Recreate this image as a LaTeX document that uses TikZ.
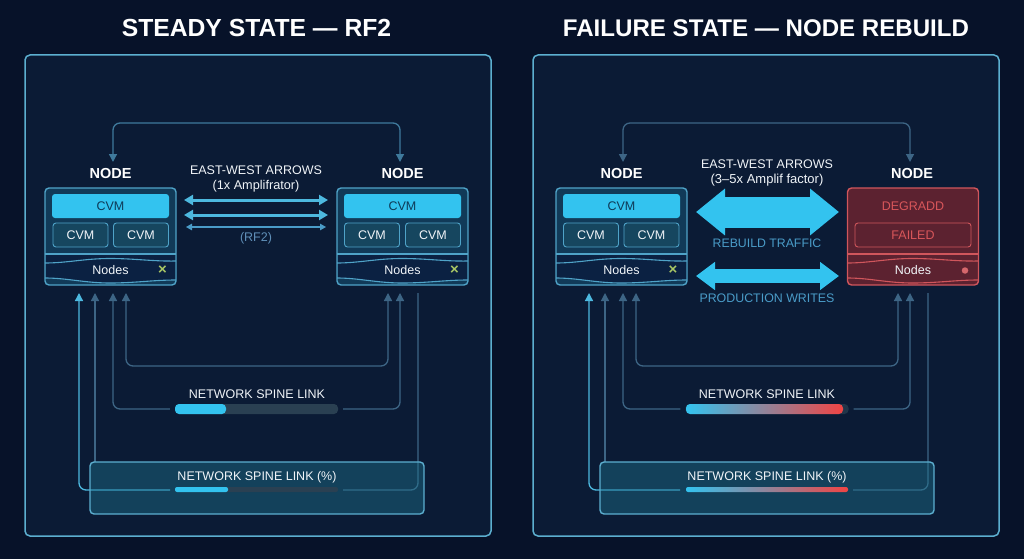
\documentclass[tikz,border=0pt]{standalone}
\usepackage{fontspec}
\setmainfont{Liberation Sans}
\usetikzlibrary{arrows.meta}
\definecolor{pagebg}{HTML}{071229}
\definecolor{panelbg}{HTML}{0B1B35}
\definecolor{panelline}{HTML}{5CAFD0}
\definecolor{cyanfill}{HTML}{33C3EF}
\definecolor{cardfill}{HTML}{113A58}
\definecolor{cardline}{HTML}{4FA3C8}
\definecolor{cvmfill}{HTML}{16465F}
\definecolor{stripfill}{HTML}{0B2142}
\definecolor{dimline}{HTML}{3D6585}
\definecolor{topline}{HTML}{3F7A9C}
\definecolor{brightline}{HTML}{4DB9DF}
\definecolor{txtwhite}{HTML}{F0F4F8}
\definecolor{labelblue}{HTML}{4A9CC8}
\definecolor{rf}{HTML}{5F8FB8}
\definecolor{redfill}{HTML}{5C2230}
\definecolor{redline}{HTML}{D0565C}
\definecolor{redtext}{HTML}{D8565A}
\definecolor{redbar}{HTML}{F04444}
\definecolor{track}{HTML}{2A4052}
\definecolor{xgreen}{HTML}{A9C765}
\definecolor{darktxt}{HTML}{0E3A58}
\definecolor{boxfill}{HTML}{1F7690}
\newcommand{\fsz}[1]{\fontsize{#1}{#1}\selectfont}
\tikzset{
  panelbox/.style={draw=panelline,line width=1.5pt,fill=panelbg,rounded corners=5pt},
  titletext/.style={text=white,font=\fsz{24}\bfseries,inner sep=0pt},
  nodehead/.style={text=white,font=\fsz{14.5}\bfseries,inner sep=0pt},
  card/.style={draw=cardline,line width=1.4pt,fill=cardfill,rounded corners=4pt,minimum width=131pt,minimum height=97pt,inner sep=0pt},
  redcard/.style={card,draw=redline,fill=redfill},
  cvmtop/.style={fill=cyanfill,rounded corners=3pt,minimum width=117pt,minimum height=24pt,inner sep=0pt,text=darktxt,font=\fsz{12.5}},
  cvmlow/.style={draw=cardline,line width=.9pt,fill=cvmfill,rounded corners=3pt,minimum width=55pt,minimum height=24pt,inner sep=0pt,text=txtwhite,font=\fsz{12.5}},
  failbox/.style={draw=redline,line width=.9pt,rounded corners=3pt,minimum width=116pt,minimum height=24pt,inner sep=0pt,text=redtext,font=\fsz{12.5}},
  plaintext/.style={inner sep=0pt,text=txtwhite,font=\fsz{12.5}},
  bluetext/.style={inner sep=0pt,text=labelblue,font=\fsz{12.3}},
  xmark/.style={inner sep=0pt,text=xgreen,font=\fsz{15}\bfseries},
  conn/.style={draw=dimline,line width=1.3pt,rounded corners=7pt},
  tiptri/.style={-{Triangle[length=8pt,width=8pt]}},
  tiptwo/.style={{Triangle[length=8pt,width=8pt]}-{Triangle[length=8pt,width=8pt]}},
  ewthick/.style={draw=brightline,line width=3pt,{Triangle[length=9pt,width=10pt]}-{Triangle[length=9pt,width=10pt]}},
  ewthin/.style={draw=labelblue,line width=1.2pt,{Triangle[length=6pt,width=6.5pt]}-{Triangle[length=6pt,width=6.5pt]}},
  bigarrow/.style={draw=cyanfill,line width=31pt,{Triangle[length=29pt,width=45pt]}-{Triangle[length=29pt,width=45pt]}},
  midarrow/.style={draw=cyanfill,line width=14pt,{Triangle[length=19pt,width=27pt]}-{Triangle[length=19pt,width=27pt]}},
  linkbox/.style={draw=panelline,line width=1.4pt,fill=boxfill,fill opacity=.42,rounded corners=4pt,minimum width=334pt,minimum height=52pt,inner sep=0pt},
}
% #1 strip colour, #2 card left edge
\newcommand{\cardstrip}[2]{%
  \fill[#1] (#2+1,255) -- (#2+130,255) -- (#2+130,280) .. controls (#2+108,280) and (#2+90,283) .. (#2+65,283) .. controls (#2+40,283) and (#2+22,278) .. (#2+1,278) -- cycle;
}
\newcommand{\cardwaves}[2]{%
  \draw[#1,line width=1.1pt] (#2,254) -- (#2+131,254);
  \draw[#1,line width=1.1pt] (#2,263) .. controls (#2+22,263) and (#2+40,258.5) .. (#2+65,258.5) .. controls (#2+90,258.5) and (#2+108,261.5) .. (#2+131,261);
  \draw[#1,line width=1.1pt] (#2,278) .. controls (#2+22,278) and (#2+40,283) .. (#2+65,283) .. controls (#2+90,283) and (#2+108,280) .. (#2+131,280);
}
\begin{document}
\begin{tikzpicture}[x=1pt,y=-1pt]
\useasboundingbox (0,0) rectangle (1024,559);
\fill[pagebg] (0,0) rectangle (1024,559);
\node[titletext,font=\fsz{24.7}\bfseries] (titleL) at (256.5,28) {STEADY STATE — RF2};
\node[titletext,font=\fsz{24.1}\bfseries] (titleR) at (766,28) {FAILURE STATE — NODE REBUILD};
\draw[panelbox] (25,55) rectangle (491,536);
\draw[panelbox] (533,55) rectangle (999,536);

%% ---------- cards
\node[card] (cardA) at (110.5,236.5) {};
\cardstrip{stripfill}{45}\cardwaves{cardline}{45}
\node[cvmtop] (a1) at (110.5,206) {CVM};
\node[cvmlow] (a2) at (80.5,235) {CVM};
\node[cvmlow] (a3) at (141,235) {CVM};
\node[plaintext] (a4) at (110.5,270) {Nodes};
\node[xmark] (a5) at (162.5,270) {×};
\node[nodehead] (headA) at (110.5,173.5) {NODE};

\node[card] (cardB) at (402.5,236.5) {};
\cardstrip{stripfill}{337}\cardwaves{cardline}{337}
\node[cvmtop] (b1) at (402.5,206) {CVM};
\node[cvmlow] (b2) at (372,235) {CVM};
\node[cvmlow] (b3) at (433,235) {CVM};
\node[plaintext] (b4) at (402.5,270) {Nodes};
\node[xmark] (b5) at (454.5,270) {×};
\node[nodehead] (headB) at (402.5,173.5) {NODE};

\node[card] (cardC) at (621.5,236.5) {};
\cardstrip{stripfill}{556}\cardwaves{cardline}{556}
\node[cvmtop] (c1) at (621.5,206) {CVM};
\node[cvmlow] (c2) at (591,235) {CVM};
\node[cvmlow] (c3) at (651.5,235) {CVM};
\node[plaintext] (c4) at (621.5,270) {Nodes};
\node[xmark] (c5) at (673,270) {×};
\node[nodehead] (headC) at (621.5,173.5) {NODE};

\node[redcard] (cardD) at (913,236.5) {};
\cardwaves{redline}{847.5}
\node[inner sep=0pt,text=redtext,font=\fsz{12.5}] (d1) at (913,206) {DEGRADD};
\node[failbox] (d2) at (913,235) {FAILED};
\node[plaintext] (d4) at (913,270) {Nodes};
\node[circle,fill=redline!90!white,minimum size=6.5pt,inner sep=0pt] (d5) at (965,270.5) {};
\node[nodehead] (headD) at (912,173.5) {NODE};

%% ---------- spine link bars
\node[fill=track,rounded corners=4pt,minimum width=163pt,minimum height=10pt,inner sep=0pt] (barA) at (256.5,409) {};
\fill[cyanfill,rounded corners=4pt] (175,404) rectangle (226,414);
\node[plaintext] (linkA) at (257,394) {NETWORK SPINE LINK};

\node[fill=track!70!panelbg,rounded corners=4pt,minimum width=163pt,minimum height=10pt,inner sep=0pt] (barC) at (767,409) {};
\shade[left color=cyanfill,right color=redbar,rounded corners=4pt] (686,404) rectangle (843,414);
\node[plaintext] (linkC) at (767,394) {NETWORK SPINE LINK};

%% ---------- connector ends
\coordinate (tA) at (113,162); \coordinate (tB) at (400,162);
\coordinate (tC) at (623,162); \coordinate (tD) at (910,162);
\foreach \n/\o in {A/0,C/510}{
  \coordinate (p\n1) at (\o+79,293);  \coordinate (p\n2) at (\o+95,293);
  \coordinate (p\n3) at (\o+113,293); \coordinate (p\n4) at (\o+126,293);
  \coordinate (p\n5) at (\o+388,293); \coordinate (p\n6) at (\o+400,293);
  \coordinate (p\n7) at (\o+418,293);
  \coordinate (q\n1) at (\o+170,490); \coordinate (q\n2) at (\o+343,490);
  \coordinate (q\n3) at (\o+95,462);
}

%% ---------- top feedback loops
\draw[conn,tiptwo,draw=topline] (tA) -- (113,123) -- (400,123) -- (tB);
\draw[conn,tiptwo,draw=dimline] (tC) -- (623,123) -- (910,123) -- (tD);

%% ---------- lower links, steady state
\draw[conn,tiptwo] (pA4) -- (126,366) -- (388,366) -- (pA5);
\draw[conn,tiptri] ([xshift=-5pt]barA.west) -- (113,409) -- (pA3);
\draw[conn,tiptri] ([xshift=5pt]barA.east) -- (400,409) -- (pA6);
\draw[conn,draw=brightline,tiptri] (qA1) -- (79,490) -- (pA1);
\draw[conn,draw=dimline] (qA2) -- (418,490) -- (pA7);
\draw[conn,tiptri] (qA3) -- (pA2);

%% ---------- lower links, failure state
\draw[conn,tiptwo] (pC4) -- (636,366) -- (898,366) -- (pC5);
\draw[conn,tiptri] ([xshift=-5pt]barC.west) -- (623,409) -- (pC3);
\draw[conn,tiptri] ([xshift=5pt]barC.east) -- (910,409) -- (pC6);
\draw[conn,draw=brightline,tiptri] (qC1) -- (589,490) -- (pC1);
\draw[conn,draw=dimline] (qC2) -- (928,490) -- (pC7);
\draw[conn,tiptri] (qC3) -- (pC2);

%% ---------- translucent link boxes
\node[linkbox] (boxA) at (257,488) {};
\node[linkbox] (boxC) at (767,488) {};
\node[plaintext] (linkB) at (257,477) {NETWORK SPINE LINK (\%)};
\node[plaintext] (linkD) at (767,477) {NETWORK SPINE LINK (\%)};
\node[fill=track,rounded corners=2pt,minimum width=163pt,minimum height=5pt,inner sep=0pt] (barB) at (256.5,489.5) {};
\fill[cyanfill,rounded corners=2pt] (175,487) rectangle (228,492);
\shade[left color=cyanfill,right color=redbar,rounded corners=2pt] (686,487) rectangle (848,492);

%% ---------- east-west arrows
\coordinate (ew1a) at (184,200); \coordinate (ew1b) at (328,200);
\coordinate (ew2a) at (184,215); \coordinate (ew2b) at (328,215);
\coordinate (ew3a) at (186,227); \coordinate (ew3b) at (326,227);
\draw[ewthick] (ew1a) -- (ew1b);
\draw[ewthick] (ew2a) -- (ew2b);
\draw[ewthin] (ew3a) -- (ew3b);
\node[plaintext] (ewL) at (256,170.5) {EAST-WEST ARROWS};
\node[plaintext,font=\fsz{12.7}] (ewLs) at (256,186) {(1x Amplifrator)};
\node[inner sep=0pt,text=rf,font=\fsz{12.5}] (rf2) at (256,238) {(RF2)};

\coordinate (big1a) at (696,212); \coordinate (big1b) at (839,212);
\coordinate (big2a) at (696,276); \coordinate (big2b) at (839,276);
\draw[bigarrow] (big1a) -- (big1b);
\draw[midarrow] (big2a) -- (big2b);
\node[plaintext] (ewR) at (767,164.5) {EAST-WEST ARROWS};
\node[plaintext,font=\fsz{13}] (ewRs) at (767,180) {(3–5x Amplif factor)};
\node[bluetext] (rebuild) at (767,243) {REBUILD TRAFFIC};
\node[bluetext,font=\fsz{12.4}] (prod) at (767,298) {PRODUCTION WRITES};
\end{tikzpicture}
\end{document}
